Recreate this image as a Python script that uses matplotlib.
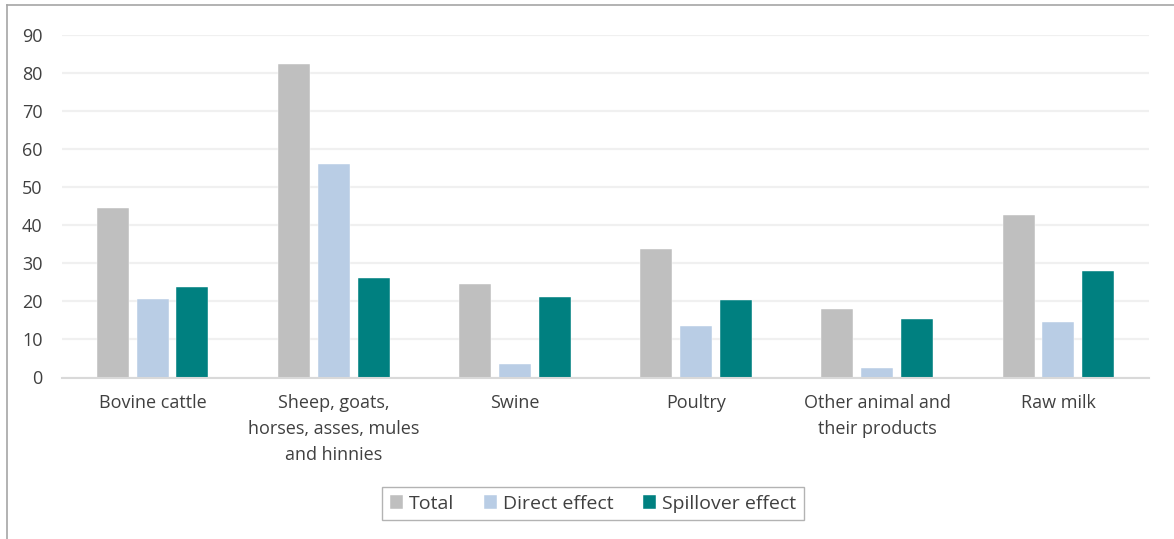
import numpy as np
import matplotlib
matplotlib.use("Agg")
import matplotlib.pyplot as plt
from matplotlib.lines import Line2D

categories = [
    "Bovine cattle",
    "Sheep, goats,\nhorses, asses, mules\nand hinnies",
    "Swine",
    "Poultry",
    "Other animal and\ntheir products",
    "Raw milk",
]
total = [44.6, 82.3, 24.6, 33.8, 18.1, 42.6]
direct = [20.6, 56.0, 3.5, 13.4, 2.6, 14.6]
spillover = [23.8, 26.0, 21.0, 20.4, 15.4, 27.9]
series_names = ["Total", "Direct effect", "Spillover effect"]
colors = ["#bfbfbf", "#b9cde5", "#008080"]
yticks = list(range(0, 100, 10))

plt.rcParams["font.family"] = ["Open Sans", "DejaVu Sans"]
text_color = "#404040"

fig = plt.figure(figsize=(11.74, 5.39), dpi=100)
ax = fig.add_axes([62 / 1174, 1 - 377.5 / 539, (1149 - 62) / 1174, (377.5 - 34.5) / 539])

x = np.arange(len(categories))
bw = 0.176
step = 0.22
for i, (vals, name, c) in enumerate(zip([total, direct, spillover], series_names, colors)):
    ax.bar(x + (i - 1) * step, vals, width=bw, color=c, label=name,
           edgecolor="white", linewidth=0.3, zorder=3)

ax.set_xlim(-0.5, len(categories) - 0.5)
ax.set_ylim(0, 90)
ax.set_yticks(yticks)
ax.set_xticks(x)
ax.set_xticklabels(categories, fontsize=13, color=text_color, linespacing=1.55)
ax.tick_params(axis="y", labelsize=13, labelcolor=text_color, length=0, pad=14)
ax.tick_params(axis="x", length=0, pad=12)
ax.grid(axis="y", color="#f0f0f0", linewidth=1.6, zorder=0)
ax.set_axisbelow(True)
for s in ["top", "right", "left"]:
    ax.spines[s].set_visible(False)
ax.spines["bottom"].set_color("#d9d9d9")
ax.spines["bottom"].set_linewidth(1.5)
ax.spines["bottom"].set_zorder(4)

leg = fig.legend(loc="center", bbox_to_anchor=(593 / 1174, 1 - 503.7 / 539), ncol=3,
                 fontsize=14, frameon=True, fancybox=False, handlelength=0.7,
                 handleheight=0.7, handletextpad=0.3, columnspacing=1.5,
                 borderpad=0.4, borderaxespad=0)
leg.get_frame().set_edgecolor("#a0a0a0")
leg.get_frame().set_linewidth(1.0)
for t in leg.get_texts():
    t.set_color(text_color)

# partial outer frame along the left and top edges
fig.add_artist(Line2D([7 / 1174, 7 / 1174], [0, 1 - 5 / 539], transform=fig.transFigure,
                      color="#a6a6a6", linewidth=1.2))
fig.add_artist(Line2D([7 / 1174, 1], [1 - 5 / 539, 1 - 5 / 539], transform=fig.transFigure,
                      color="#a6a6a6", linewidth=1.2))

fig.savefig("out.png", dpi=100)
